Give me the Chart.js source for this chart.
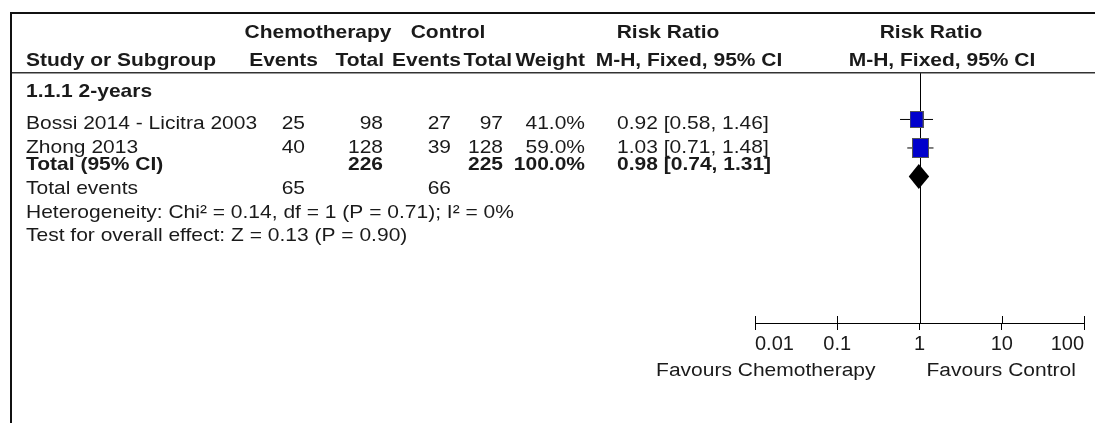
<!DOCTYPE html>
<html><head><meta charset="utf-8">
<script src="https://cdn.jsdelivr.net/npm/chart.js@4/dist/chart.umd.min.js"></script>
<style>html,body{margin:0;padding:0;background:#fff;}canvas{display:block;}</style>
</head><body>
<canvas id="c" width="1095" height="423"></canvas>
<script>
// ---- data ----
const subgroup = '1.1.1 2-years';
const studies = ['Bossi 2014 - Licitra 2003', 'Zhong 2013'];
const chemoEvents = [25, 40];
const chemoTotals = [98, 128];
const controlEvents = [27, 39];
const controlTotals = [97, 128];
const weights = [41.0, 59.0];
const riskRatios = [0.92, 1.03];
const ciLower = [0.58, 0.71];
const ciUpper = [1.46, 1.48];
const pooledRR = [0.98];
const pooledLower = [0.74];
const pooledUpper = [1.31];
const totalChemo = [226];
const totalControl = [225];
const totalWeight = [100.0];
const eventsChemo = [65];
const eventsControl = [66];
const heterogeneityText = ['Heterogeneity: Chi² = 0.14, df = 1 (P = 0.71); I² = 0%'];
const overallEffectText = ['Test for overall effect: Z = 0.13 (P = 0.90)'];
const xTicks = [0.01, 0.1, 1, 10, 100];
const favoursLabels = ['Favours Chemotherapy', 'Favours Control'];

// ---- style ----
const FAM = '"Liberation Sans", Arial, sans-serif';
const TXT = '#1a1a1a';
const BLUE = '#0000CC';
const VSCALE = 0.88;

function fmtCI(r, l, u) { return r.toFixed(2) + ' [' + l.toFixed(2) + ', ' + u.toFixed(2) + ']'; }

function makeSquare(weight) {
  const w = Math.round(2.2 * Math.sqrt(weight));
  const h = Math.round(w * 1.2);
  const c = document.createElement('canvas');
  c.width = w; c.height = h;
  const g = c.getContext('2d');
  g.fillStyle = '#555'; g.fillRect(0, 0, w, h);
  g.fillStyle = BLUE; g.fillRect(1, 1, w - 2, h - 2);
  return c;
}
const squareImgs = weights.map(makeSquare);
const studyRows = studies.map((s, i) => i + 1);
const pooledRow = studies.length + 1;

function txt(ctx, s, x, y, align, bold) {
  ctx.save();
  ctx.font = (bold ? 'bold ' : '') + '21px ' + FAM;
  ctx.textAlign = align;
  ctx.textBaseline = 'alphabetic';
  ctx.fillStyle = TXT;
  ctx.translate(x, y);
  ctx.scale(1, VSCALE);
  ctx.fillText(s, 0, 0);
  ctx.restore();
}

const forestPlugin = {
  id: 'forest',
  beforeDatasetsDraw(chart) {
    const ctx = chart.ctx, xs = chart.scales.x, a = chart.chartArea;
    const x1 = Math.round(xs.getPixelForValue(1)) + 0.5;
    ctx.save();
    ctx.strokeStyle = '#000'; ctx.lineWidth = 1;
    ctx.beginPath(); ctx.moveTo(x1, a.top); ctx.lineTo(x1, a.bottom); ctx.stroke();
    ctx.beginPath();
    xTicks.forEach(v => {
      const px = Math.round(xs.getPixelForValue(v)) + 0.5;
      ctx.moveTo(px, a.bottom - 7); ctx.lineTo(px, a.bottom);
    });
    ctx.stroke();
    ctx.restore();
  },
  afterDatasetsDraw(chart) {
    const ctx = chart.ctx, xs = chart.scales.x, ys = chart.scales.y;
    const y = ys.getPixelForValue(pooledRow);
    const xl = xs.getPixelForValue(pooledLower[0]);
    const xm = xs.getPixelForValue(pooledRR[0]);
    const xu = xs.getPixelForValue(pooledUpper[0]);
    const hh = 12.5;
    ctx.save();
    ctx.fillStyle = '#000';
    ctx.beginPath();
    ctx.moveTo(xl, y); ctx.lineTo(xm, y - hh); ctx.lineTo(xu, y); ctx.lineTo(xm, y + hh); ctx.closePath();
    ctx.fill();
    ctx.restore();
  },
  afterDraw(chart) {
    const ctx = chart.ctx, xs = chart.scales.x;
    ctx.save();
    ctx.fillStyle = '#111';
    ctx.fillRect(10, 12, 1085, 2);
    ctx.fillRect(10, 12, 2, 411);
    ctx.fillStyle = '#333';
    ctx.fillRect(12, 72, 1083, 1.5);
    // header line 1
    txt(ctx, 'Chemotherapy', 318, 38, 'center', true);
    txt(ctx, 'Control', 448, 38, 'center', true);
    txt(ctx, 'Risk Ratio', 668, 38, 'center', true);
    txt(ctx, 'Risk Ratio', 931, 38, 'center', true);
    // header line 2
    txt(ctx, 'Study or Subgroup', 26, 66, 'left', true);
    txt(ctx, 'Events', 318, 66, 'right', true);
    txt(ctx, 'Total', 384, 66, 'right', true);
    txt(ctx, 'Events', 392, 66, 'left', true);
    txt(ctx, 'Total', 512, 66, 'right', true);
    txt(ctx, 'Weight', 585, 66, 'right', true);
    txt(ctx, 'M-H, Fixed, 95% CI', 689, 66, 'center', true);
    txt(ctx, 'M-H, Fixed, 95% CI', 942, 66, 'center', true);
    // subgroup
    txt(ctx, subgroup, 26, 97, 'left', true);
    // study rows
    const rowBase = [129, 153];
    studies.forEach((s, i) => {
      const y = rowBase[i];
      txt(ctx, s, 26, y, 'left', false);
      txt(ctx, String(chemoEvents[i]), 305, y, 'right', false);
      txt(ctx, String(chemoTotals[i]), 383, y, 'right', false);
      txt(ctx, String(controlEvents[i]), 451, y, 'right', false);
      txt(ctx, String(controlTotals[i]), 503, y, 'right', false);
      txt(ctx, weights[i].toFixed(1) + '%', 585, y, 'right', false);
      txt(ctx, fmtCI(riskRatios[i], ciLower[i], ciUpper[i]), 617, y, 'left', false);
    });
    // total row
    const tb = 170;
    txt(ctx, 'Total (95% CI)', 26, tb, 'left', true);
    txt(ctx, String(totalChemo[0]), 383, tb, 'right', true);
    txt(ctx, String(totalControl[0]), 503, tb, 'right', true);
    txt(ctx, totalWeight[0].toFixed(1) + '%', 585, tb, 'right', true);
    txt(ctx, fmtCI(pooledRR[0], pooledLower[0], pooledUpper[0]), 617, tb, 'left', true);
    // events & stats
    txt(ctx, 'Total events', 26, 194, 'left', false);
    txt(ctx, String(eventsChemo[0]), 305, 194, 'right', false);
    txt(ctx, String(eventsControl[0]), 451, 194, 'right', false);
    txt(ctx, heterogeneityText[0], 26, 218, 'left', false);
    txt(ctx, overallEffectText[0], 26, 241, 'left', false);
    // favours labels
    const x1 = xs.getPixelForValue(1);
    txt(ctx, favoursLabels[0], x1 - 44, 376, 'right', false);
    txt(ctx, favoursLabels[1], x1 + 7, 376, 'left', false);
    ctx.restore();
  }
};

const ciDatasets = studies.map((s, i) => ({
  label: 'CI ' + s,
  data: [{ x: ciLower[i], y: studyRows[i] }, { x: ciUpper[i], y: studyRows[i] }],
  showLine: true,
  borderColor: '#000',
  borderWidth: 1,
  pointRadius: 0,
  order: 2
}));

new Chart(document.getElementById('c').getContext('2d'), {
  type: 'scatter',
  data: {
    datasets: [
      {
        label: 'Studies',
        data: studies.map((s, i) => ({ x: riskRatios[i], y: studyRows[i] })),
        pointStyle: squareImgs,
        pointRadius: 10,
        order: 0
      },
      ...ciDatasets
    ]
  },
  options: {
    responsive: false,
    animation: false,
    devicePixelRatio: 1,
    events: [],
    layout: { padding: { left: 755, right: 9, top: 73, bottom: 0 } },
    plugins: { legend: { display: false }, tooltip: { enabled: false } },
    scales: {
      x: {
        type: 'logarithmic',
        min: 0.01, max: 100,
        position: 'bottom',
        afterBuildTicks: s => { s.ticks = xTicks.map(v => ({ value: v })); },
        afterFit: s => { s.height = 100; },
        ticks: {
          align: 'inner', padding: 2, color: TXT, autoSkip: false, maxRotation: 0,
          font: { family: FAM, size: 20 },
          callback: v => String(v)
        },
        grid: { display: true, drawOnChartArea: false, drawTicks: true, tickLength: 7, color: '#000', lineWidth: 1 },
        border: { display: true, color: '#000', width: 1 }
      },
      y: { type: 'linear', min: -0.63, max: 8.14, reverse: true, display: false }
    }
  },
  plugins: [forestPlugin]
});
</script>
</body></html>
